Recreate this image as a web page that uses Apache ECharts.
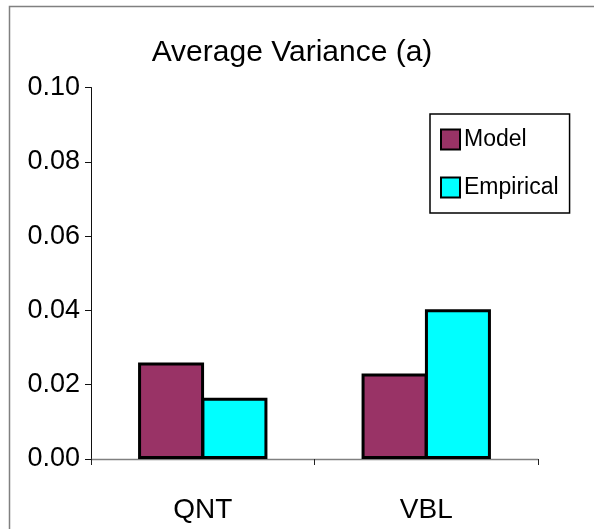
<!DOCTYPE html>
<html>
<head>
<meta charset="utf-8">
<script src="https://cdn.jsdelivr.net/npm/echarts@6/dist/echarts.min.js"></script>
<style>html,body{margin:0;padding:0;background:#fff}#c{width:594px;height:529px}</style>
</head>
<body>
<div id="c"></div>
<script>
const categories = ['QNT', 'VBL'];
const seriesNames = ['Model', 'Empirical'];
const modelValues = [0.0260, 0.0230];
const empiricalValues = [0.0165, 0.0403];
const yTicks = ['0.00', '0.02', '0.04', '0.06', '0.08', '0.10'];

const FONT = '"Liberation Sans", Arial, sans-serif';
const chart = echarts.init(document.getElementById('c'), null, {renderer: 'canvas'});
chart.setOption({
  animation: false,
  backgroundColor: '#fff',
  graphic: [{
    type: 'rect', left: 7, top: 4, shape: {x: 0, y: 0, width: 620, height: 620},
    style: {fill: 'none', stroke: '#808080', lineWidth: 1.5}, z: -10
  }],
  title: {
    text: 'Average Variance (a)', left: 287, top: 33, textAlign: 'center',
    textStyle: {fontFamily: FONT, fontSize: 30, fontWeight: 'normal', color: '#000'}
  },
  legend: {
    orient: 'vertical', left: 430, top: 114,
    padding: [14, 11, 14, 10], itemGap: 25, itemWidth: 19, itemHeight: 20,
    borderColor: '#000', borderWidth: 1.5, backgroundColor: '#fff',
    icon: 'rect',
    textStyle: {fontFamily: FONT, fontSize: 23, color: '#000', padding: [0, 0, 5, -1]},
    data: seriesNames
  },
  grid: {left: 91, right: 56, top: 87.5, bottom: 70, containLabel: false},
  xAxis: {
    type: 'category', data: categories,
    axisLine: {lineStyle: {color: '#808080', width: 1.3}},
    axisTick: {show: true, length: 6, lineStyle: {color: '#222'}},
    axisLabel: {fontFamily: FONT, fontSize: 28, color: '#000', margin: 37}
  },
  yAxis: {
    type: 'value', min: 0, max: 0.1, interval: 0.02,
    axisLine: {show: true, lineStyle: {color: '#111', width: 1}},
    axisTick: {show: true, length: 6, lineStyle: {color: '#111'}},
    splitLine: {show: false},
    axisLabel: {fontFamily: FONT, fontSize: 27, color: '#000', margin: 11,
      formatter: function (v) { return yTicks[Math.round(v / 0.02)]; }}
  },
  series: [
    {name: seriesNames[0], type: 'bar', data: modelValues, barWidth: 66, barGap: '-4%',
      itemStyle: {color: '#993366', borderColor: '#000', borderWidth: 3, borderType: 'solid'}},
    {name: seriesNames[1], type: 'bar', data: empiricalValues, barWidth: 66, barGap: '-4%',
      itemStyle: {color: '#00FFFF', borderColor: '#000', borderWidth: 3, borderType: 'solid'}}
  ]
});
</script>
</body>
</html>
